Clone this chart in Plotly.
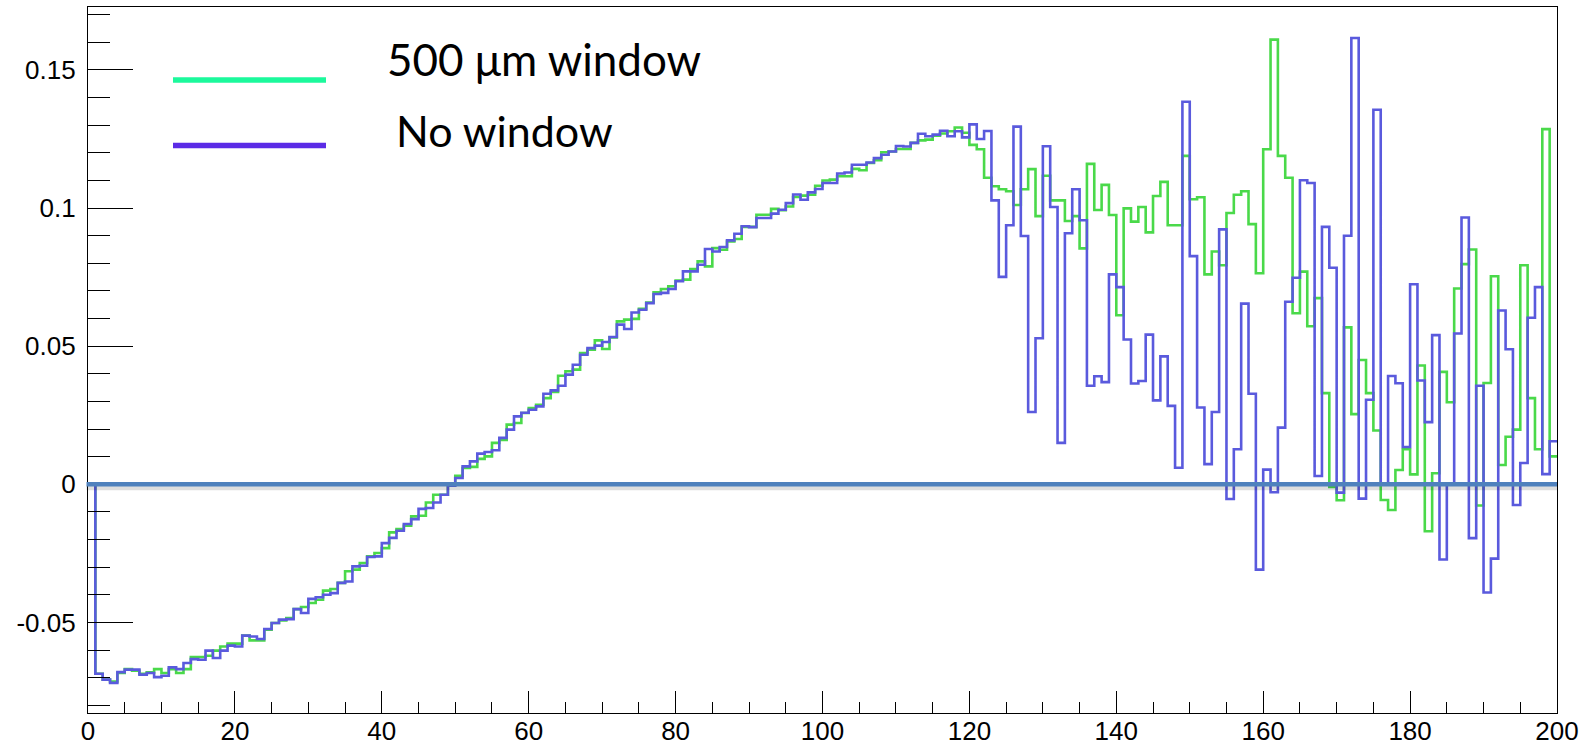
import plotly.graph_objects as go

# ---- data: 200 bins of width 1 on [0, 200] ----
bin_edges = list(range(0, 201))

no_window = [
    0.0000, -0.0686, -0.0707, -0.0719, -0.0680, -0.0671, -0.0671, -0.0689, -0.0683, -0.0698,
    -0.0693, -0.0663, -0.0669, -0.0647, -0.0633, -0.0635, -0.0602, -0.0629, -0.0602, -0.0584,
    -0.0587, -0.0548, -0.0551, -0.0560, -0.0524, -0.0502, -0.0490, -0.0488, -0.0452, -0.0466,
    -0.0415, -0.0409, -0.0400, -0.0394, -0.0357, -0.0352, -0.0297, -0.0295, -0.0263, -0.0261,
    -0.0213, -0.0194, -0.0168, -0.0144, -0.0126, -0.0089, -0.0086, -0.0066, -0.0038, -0.0005,
    0.0023, 0.0065, 0.0083, 0.0111, 0.0117, 0.0123, 0.0168, 0.0198, 0.0246, 0.0259,
    0.0270, 0.0282, 0.0328, 0.0340, 0.0357, 0.0397, 0.0433, 0.0469, 0.0493, 0.0502,
    0.0515, 0.0533, 0.0578, 0.0562, 0.0622, 0.0632, 0.0656, 0.0689, 0.0693, 0.0707,
    0.0735, 0.0771, 0.0771, 0.0795, 0.0852, 0.0843, 0.0859, 0.0883, 0.0907, 0.0934,
    0.0931, 0.0964, 0.0964, 0.0980, 0.0994, 0.1018, 0.1049, 0.1030, 0.1057, 0.1069,
    0.1091, 0.1091, 0.1125, 0.1129, 0.1157, 0.1157, 0.1165, 0.1181, 0.1193, 0.1205,
    0.1225, 0.1223, 0.1236, 0.1269, 0.1260, 0.1266, 0.1280, 0.1260, 0.1278, 0.1256,
    0.1303, 0.1250, 0.1279, 0.1028, 0.0751, 0.0938, 0.1295, 0.0899, 0.0262, 0.0529,
    0.1224, 0.1004, 0.0150, 0.0909, 0.1068, 0.0956, 0.0357, 0.0391, 0.0370, 0.0760,
    0.0714, 0.0524, 0.0365, 0.0374, 0.0542, 0.0304, 0.0463, 0.0284, 0.0060, 0.1385,
    0.0826, 0.0278, 0.0073, 0.0262, 0.0923, -0.0053, 0.0127, 0.0654, 0.0328, -0.0309,
    0.0053, -0.0029, 0.0205, 0.0661, 0.0748, 0.1101, 0.1091, 0.0030, 0.0932, 0.0784,
    -0.0030, 0.0900, 0.1616, -0.0052, 0.0306, 0.1356, 0.0000, 0.0392, 0.0366, 0.0135,
    0.0724, 0.0376, 0.0225, 0.0540, -0.0272, 0.0000, 0.0546, 0.0966, -0.0195, 0.0357,
    -0.0392, -0.0269, 0.0629, 0.0489, -0.0075, 0.0077, 0.0603, 0.0714, 0.0037, 0.0156,
]

window_500um = [
    0.0000, -0.0686, -0.0707, -0.0714, -0.0683, -0.0669, -0.0675, -0.0686, -0.0681, -0.0669,
    -0.0683, -0.0669, -0.0683, -0.0669, -0.0625, -0.0625, -0.0621, -0.0602, -0.0587, -0.0577,
    -0.0577, -0.0548, -0.0565, -0.0565, -0.0526, -0.0502, -0.0493, -0.0484, -0.0452, -0.0444,
    -0.0430, -0.0418, -0.0385, -0.0379, -0.0357, -0.0315, -0.0309, -0.0285, -0.0261, -0.0249,
    -0.0231, -0.0174, -0.0162, -0.0150, -0.0116, -0.0114, -0.0066, -0.0038, -0.0038, -0.0001,
    0.0031, 0.0059, 0.0063, 0.0092, 0.0101, 0.0150, 0.0161, 0.0216, 0.0222, 0.0258,
    0.0276, 0.0288, 0.0312, 0.0334, 0.0393, 0.0409, 0.0415, 0.0475, 0.0487, 0.0521,
    0.0490, 0.0532, 0.0590, 0.0596, 0.0599, 0.0635, 0.0658, 0.0695, 0.0707, 0.0717,
    0.0738, 0.0741, 0.0779, 0.0807, 0.0789, 0.0855, 0.0849, 0.0879, 0.0888, 0.0932,
    0.0932, 0.0976, 0.0976, 0.0997, 0.0992, 0.1006, 0.1040, 0.1045, 0.1048, 0.1081,
    0.1100, 0.1103, 0.1115, 0.1115, 0.1142, 0.1137, 0.1163, 0.1173, 0.1202, 0.1205,
    0.1214, 0.1214, 0.1236, 0.1245, 0.1248, 0.1262, 0.1270, 0.1278, 0.1292, 0.1273,
    0.1229, 0.1213, 0.1110, 0.1079, 0.1068, 0.1061, 0.1011, 0.1068, 0.1141, 0.0971,
    0.1117, 0.1028, 0.1028, 0.0953, 0.0971, 0.0854, 0.1160, 0.0993, 0.1084, 0.0975,
    0.0612, 0.0999, 0.0951, 0.1004, 0.0912, 0.1044, 0.1095, 0.0938, 0.0938, 0.1189,
    0.1032, 0.1039, 0.0760, 0.0843, 0.0793, 0.0982, 0.1048, 0.1061, 0.0942, 0.0764,
    0.1213, 0.1610, 0.1189, 0.1110, 0.0619, 0.0770, 0.0572, 0.0674, 0.0330, -0.0010,
    -0.0058, 0.0568, 0.0254, 0.0450, 0.0330, 0.0195, -0.0057, -0.0093, 0.0052, 0.0127,
    0.0036, 0.0430, -0.0170, 0.0040, 0.0407, 0.0297, 0.0709, 0.0797, 0.0850, -0.0077,
    0.0367, 0.0753, 0.0070, 0.0172, 0.0198, 0.0793, 0.0312, 0.0127, 0.1286, 0.0101,
]

x_tickvals = [0, 20, 40, 60, 80, 100, 120, 140, 160, 180, 200]
x_ticktext = ["0", "20", "40", "60", "80", "100", "120", "140", "160", "180", "200"]
y_tickvals = [-0.05, 0, 0.05, 0.1, 0.15]
y_ticktext = ["-0.05", "0", "0.05", "0.1", "0.15"]
legend_labels = ["500 \u03bcm window", "No window"]

# ---- styling ----
W, H = 1587, 747
ML, MR, MT, MB = 88, 30, 7, 34
GREEN_LINE = "#4ad94a"
BLUE_LINE = "#5a5add"
GREEN_LEG = "#1cf99c"
BLUE_LEG = "#5b2be6"
ZERO_COL = "#4f81bd"
TICKFONT = dict(family="Liberation Sans, Arial, sans-serif", size=26, color="black")

pw, ph = W - ML - MR, H - MT - MB


def px_x(px):
    return (px - ML) / pw


def px_y(py):
    return (H - MB - py) / ph


fig = go.Figure()
fig.add_trace(go.Scatter(
    x=bin_edges, y=window_500um + [window_500um[-1]], mode="lines",
    line=dict(shape="hv", color=GREEN_LINE, width=2.6), showlegend=False, name=legend_labels[0]))
fig.add_trace(go.Scatter(
    x=bin_edges, y=no_window + [no_window[-1]], mode="lines",
    line=dict(shape="hv", color=BLUE_LINE, width=2.6), showlegend=False, name=legend_labels[1]))

shapes = [
    # shadow + thick zero line
    dict(type="line", xref="paper", x0=-0.001, x1=1.0, yref="y", ysizemode="pixel", yanchor=0,
         y0=-3.5, y1=-3.5, line=dict(color="rgba(0,0,0,0.13)", width=5), layer="above"),
    dict(type="line", xref="paper", x0=-0.001, x1=1.0, yref="y", y0=0, y1=0,
         line=dict(color=ZERO_COL, width=4.6), layer="above"),
    # legend samples
    dict(type="line", xref="paper", yref="paper", x0=px_x(173), x1=px_x(326),
         y0=px_y(80), y1=px_y(80), line=dict(color=GREEN_LEG, width=5.5)),
    dict(type="line", xref="paper", yref="paper", x0=px_x(173), x1=px_x(326),
         y0=px_y(145.5), y1=px_y(145.5), line=dict(color=BLUE_LEG, width=5.5)),
]

annotations = [
    dict(text=legend_labels[0], xref="paper", yref="paper", x=px_x(385), y=px_y(59),
         xanchor="left", yanchor="middle", showarrow=False,
         font=dict(family="Lato, Open Sans, sans-serif", size=44, color="black")),
    dict(text=legend_labels[1], xref="paper", yref="paper", x=px_x(394), y=px_y(130),
         xanchor="left", yanchor="middle", showarrow=False,
         font=dict(family="Lato, Open Sans, sans-serif", size=43, color="black")),
]

fig.update_layout(
    width=W, height=H,
    margin=dict(l=ML, r=MR, t=MT, b=MB, pad=0),
    paper_bgcolor="white", plot_bgcolor="white",
    shapes=shapes, annotations=annotations, showlegend=False,
)
fig.update_xaxes(
    range=[0, 200], showgrid=False, zeroline=False, automargin=False,
    showline=True, mirror=True, linecolor="black", linewidth=1.2,
    tickmode="array", tickvals=x_tickvals, ticktext=x_ticktext,
    ticks="inside", ticklen=22, tickwidth=1.2, tickcolor="black",
    minor=dict(ticks="inside", ticklen=11, tickwidth=1.2, tickcolor="black",
               tickmode="linear", tick0=0, dtick=5),
    tickfont=TICKFONT, ticklabelstandoff=-5,
)
fig.update_yaxes(
    range=[-0.0828, 0.1728], showgrid=False, zeroline=False, automargin=False,
    showline=True, mirror=True, linecolor="black", linewidth=1.2,
    tickmode="array", tickvals=y_tickvals, ticktext=y_ticktext,
    ticks="inside", ticklen=45, tickwidth=1.2, tickcolor="black",
    minor=dict(ticks="inside", ticklen=22, tickwidth=1.2, tickcolor="black",
               tickmode="linear", tick0=0, dtick=0.01),
    tickfont=TICKFONT, ticklabelstandoff=6,
)

fig.write_html(
    "out.html",
    config={"displayModeBar": False},
    post_script="document.body.style.margin='0';document.body.style.padding='0';"
                "document.body.style.overflow='hidden';",
)
